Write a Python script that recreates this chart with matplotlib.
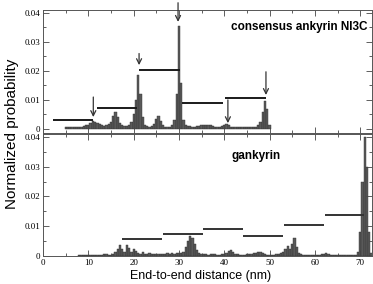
import numpy as np
import matplotlib
matplotlib.use("Agg")
import matplotlib.pyplot as plt
from matplotlib.ticker import MultipleLocator

# ---------------- data ----------------
bin_width = 0.5
ni3c_start = 5.0
ni3c_prob = [0.5, 0.6, 0.5, 0.6, 0.5, 0.6, 0.7, 0.8, 1.0, 1.2,
             1.5, 2.0, 2.8, 2.5, 2.2, 1.6, 1.2, 1.0, 1.2, 1.6,
             2.5, 4.5, 5.8, 4.0, 2.2, 1.2, 0.9, 1.0, 1.5, 2.5,
             5.0, 10.0, 18.5, 12.0, 4.0, 1.5, 0.9, 0.8, 1.0, 1.8,
             3.5, 4.6, 2.8, 1.3, 0.8, 0.7, 0.8, 1.2, 3.0, 12.0,
             35.5, 16.0, 3.0, 1.5, 1.0, 0.9, 0.8, 0.8, 0.9, 1.1,
             1.3, 1.4, 1.3, 1.4, 1.3, 1.0, 0.8, 0.7, 0.8, 1.0,
             1.5, 1.8, 1.3, 0.8, 0.6, 0.5, 0.5, 0.5, 0.5, 0.5,
             0.5, 0.6, 0.6, 0.7, 0.8, 1.2, 2.5, 6.0, 9.8, 7.0, 1.5]

gank_start = 8.0
gank_prob = [0.2, 0.3, 0.3, 0.2, 0.3, 0.3, 0.4, 0.3, 0.4, 0.3,
             0.5, 0.7, 0.6, 0.4, 0.5, 0.7, 1.2, 2.5, 3.6, 2.2,
             1.5, 3.7, 2.8, 1.5, 2.5, 1.8, 0.9, 0.8, 1.2, 0.8,
             0.7, 0.9, 0.7, 0.6, 0.8, 0.7, 0.6, 0.8, 0.7, 0.9,
             0.8, 1.0, 0.8, 0.9, 0.9, 1.1, 1.5, 3.0, 5.0, 6.7,
             6.0, 4.0, 2.0, 1.0, 0.7, 0.6, 0.6, 0.5, 0.6, 0.7,
             0.6, 0.5, 0.5, 0.6, 0.7, 1.0, 1.8, 2.0, 1.2, 0.7,
             0.6, 0.5, 0.5, 0.5, 0.6, 0.6, 0.7, 0.9, 1.1, 1.3,
             1.2, 0.9, 0.6, 0.5, 0.5, 0.4, 0.5, 0.6, 0.7, 0.9,
             1.3, 2.2, 3.2, 2.5, 4.0, 6.0, 3.0, 1.0, 0.6, 0.5,
             0.4, 0.4, 0.4, 0.4, 0.4, 0.4, 0.5, 0.6, 0.8, 0.9,
             0.8, 0.5, 0.4, 0.3, 0.3, 0.3, 0.3, 0.3, 0.3, 0.3,
             0.3, 0.4, 0.5, 1.5, 8.0, 25.0, 40.0, 30.0, 8.0, 1.0]

# horizontal level segments: (x start, x end, level)
ni3c_levels = [(2.2, 11.1, 3.1), (11.9, 20.8, 7.3), (21.2, 30.2, 20.3),
               (30.6, 39.8, 9.0), (40.2, 49.2, 10.7)]
gank_levels = [(17.4, 26.2, 5.6), (26.5, 35.2, 7.4), (35.4, 44.1, 9.0),
               (44.2, 52.9, 6.7), (53.2, 61.9, 10.4), (62.3, 70.9, 13.8)]
# arrows: (x, y from, y to)
ni3c_arrows = [(11.1, 11.0, 4.1), (21.2, 26.0, 22.0), (29.8, 43.5, 36.9),
               (40.8, 10.0, 2.0), (49.2, 19.7, 11.7)]

# ---------------- figure ----------------
W, H, DPI = 373, 284, 100
fig = plt.figure(figsize=(W / DPI, H / DPI), dpi=DPI)
left, right = 43 / W, 372 / W
ax1 = fig.add_axes([left, 1 - 133 / H, right - left, 123 / H])
ax2 = fig.add_axes([left, 1 - 256 / H, right - left, 122 / H])

bar_kw = dict(width=bin_width, color="#5a5a5a", edgecolor="#303030",
              linewidth=0.3, align="center")

x1 = ni3c_start + bin_width * np.arange(len(ni3c_prob))
ax1.bar(x1, np.array(ni3c_prob) * 1e-3, **bar_kw)
x2 = gank_start + bin_width * np.arange(len(gank_prob))
ax2.bar(x2, np.array(gank_prob) * 1e-3, **bar_kw)

for a, b, y in ni3c_levels:
    ax1.plot([a, b], [y * 1e-3, y * 1e-3], color="#1a1a1a", lw=1.4,
             solid_capstyle="butt")
for a, b, y in gank_levels:
    ax2.plot([a, b], [y * 1e-3, y * 1e-3], color="#333333", lw=1.4,
             solid_capstyle="butt")
for x, y0, y1 in ni3c_arrows:
    ax1.annotate("", xy=(x, y1 * 1e-3), xytext=(x, y0 * 1e-3),
                 arrowprops=dict(arrowstyle="->", color="#333333", lw=0.9,
                                 mutation_scale=9, shrinkA=0, shrinkB=0),
                 annotation_clip=False)

tick_font = dict(family="Liberation Serif", size=6.5)
for ax in (ax1, ax2):
    ax.set_xlim(0, 72.6)
    ax.set_ylim(0, 0.041)
    ax.xaxis.set_major_locator(MultipleLocator(10))
    ax.xaxis.set_minor_locator(MultipleLocator(5))
    ax.yaxis.set_major_locator(MultipleLocator(0.01))
    ax.yaxis.set_minor_locator(MultipleLocator(0.005))
    ax.tick_params(which="both", direction="in", top=True, right=True,
                   width=0.6, color="#444444", pad=2)
    ax.tick_params(which="major", length=4.5)
    ax.tick_params(which="minor", length=2.5)
    for s in ax.spines.values():
        s.set_linewidth(0.7)
        s.set_color("#555555")
    ax.set_yticks([0, 0.01, 0.02, 0.03, 0.04])
    ax.set_yticklabels(["0", "0.01", "0.02", "0.03", "0.04"], fontdict=tick_font)

ax1.set_ylim(-0.0014, 0.041)
ax1.tick_params(labelbottom=False)
ax2.set_xticks([0, 10, 20, 30, 40, 50, 60, 70])
ax2.set_xticklabels(["0", "10", "20", "30", "40", "50", "60", "70"],
                    fontdict=tick_font)

ax1.text(0.985, 0.86, "consensus ankyrin NI3C", transform=ax1.transAxes,
         ha="right", va="center", fontsize=8.5, fontweight="bold",
         family="Liberation Sans")
ax2.text(41.5, 0.0335, "gankyrin", ha="left", va="center", fontsize=8.5,
         fontweight="bold", family="Liberation Sans")

fig.text(201 / W, 1 - 276 / H, "End-to-end distance (nm)", ha="center",
         va="center", fontsize=9, family="Liberation Sans")
fig.text(12 / W, 1 - 134 / H, "Normalized probability", ha="center",
         va="center", rotation=90, fontsize=11, family="Liberation Sans")

fig.savefig("out.png", dpi=DPI)
